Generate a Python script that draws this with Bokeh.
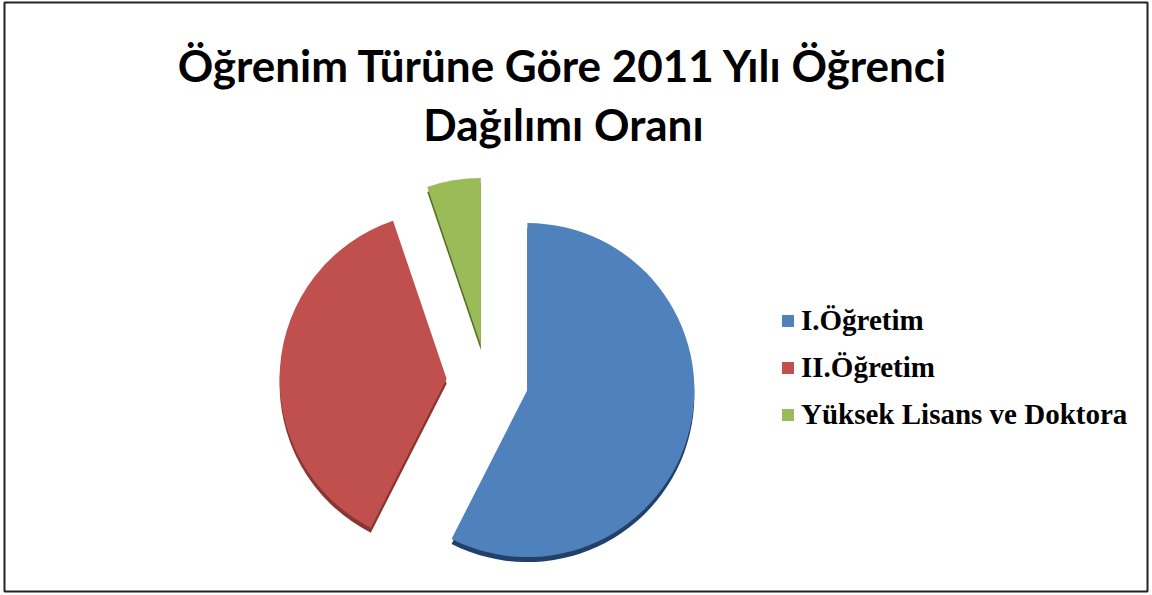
import math
from bokeh.plotting import figure
from bokeh.models import ColumnDataSource, Range1d, Label, Legend, LegendItem
from bokeh.embed import file_html
from bokeh.resources import INLINE

# ---- data ----
categories = ["I.Öğretim", "II.Öğretim", "Yüksek Lisans ve Doktora"]
shares = [57.5, 37.3, 5.2]
colors = ["#4F81BD", "#C0504D", "#9BBB59"]
side_colors = ["#22416A", "#8A3532", "#56702A"]
title_lines = ["Öğrenim Türüne Göre 2011 Yılı Öğrenci", "Dağılımı Oranı"]

# ---- layout / style ----
W, H = 1150, 594
FL, FR, FT, FB = 4, 1147, 2, 591      # frame edges in page pixels
CX, CY = 487, 214          # pie centre (data units = pixels, y up from 595)
R = 167                    # radius
EXPLODE = 41               # explosion distance
VK = 0.9                   # vertical squash of explosion
DEPTH = 5                  # 3-D side thickness

total = sum(shares)
starts, ends, xs, ys = [], [], [], []
cum = 0.0
for v in shares:
    a0 = math.pi / 2 - 2 * math.pi * (cum + v) / total
    a1 = math.pi / 2 - 2 * math.pi * cum / total
    mid = (a0 + a1) / 2
    starts.append(a0)
    ends.append(a1)
    xs.append(CX + EXPLODE * math.cos(mid))
    ys.append(CY + EXPLODE * VK * math.sin(mid))
    cum += v

src = ColumnDataSource(dict(x=xs, y=ys, y_side=[y - DEPTH for y in ys],
                            start=starts, end=ends, color=colors,
                            side=side_colors, label=categories))

p = figure(width=W, height=H,
           x_range=Range1d(FL, FR), y_range=Range1d(595 - FB, 595 - FT),
           output_backend="svg", toolbar_location=None,
           min_border_left=FL, min_border_right=W - FR,
           min_border_top=FT, min_border_bottom=H - FB,
           background_fill_color="white", border_fill_color="white")
p.axis.visible = False
p.grid.visible = False
p.outline_line_color = "#222222"
p.outline_line_width = 2

p.wedge(x="x", y="y_side", radius=R, start_angle="start", end_angle="end",
        direction="anticlock", fill_color="side", line_color=None, source=src)
r = p.wedge(x="x", y="y", radius=R, start_angle="start", end_angle="end",
            direction="anticlock", fill_color="color", line_color=None, source=src)

for i, (txt, by) in enumerate(zip(title_lines, [531, 472])):
    p.add_layout(Label(x=563, y=by, text=txt, text_align="center",
                       text_baseline="alphabetic", text_font="Lato",
                       text_font_style="bold", text_font_size="44px",
                       text_color="black"))

legend = Legend(items=[LegendItem(label=c, renderers=[r], index=i)
                       for i, c in enumerate(categories)],
                location=(776, 160), orientation="vertical",
                label_text_font="Liberation Serif", label_text_font_style="bold",
                label_text_font_size="29px", label_text_color="black",
                glyph_width=15, glyph_height=15, label_height=34,
                label_standoff=6, spacing=13, padding=0, margin=0,
                border_line_color=None, background_fill_alpha=0)
p.add_layout(legend)

open("out.html", "w").write(file_html(p, INLINE))
